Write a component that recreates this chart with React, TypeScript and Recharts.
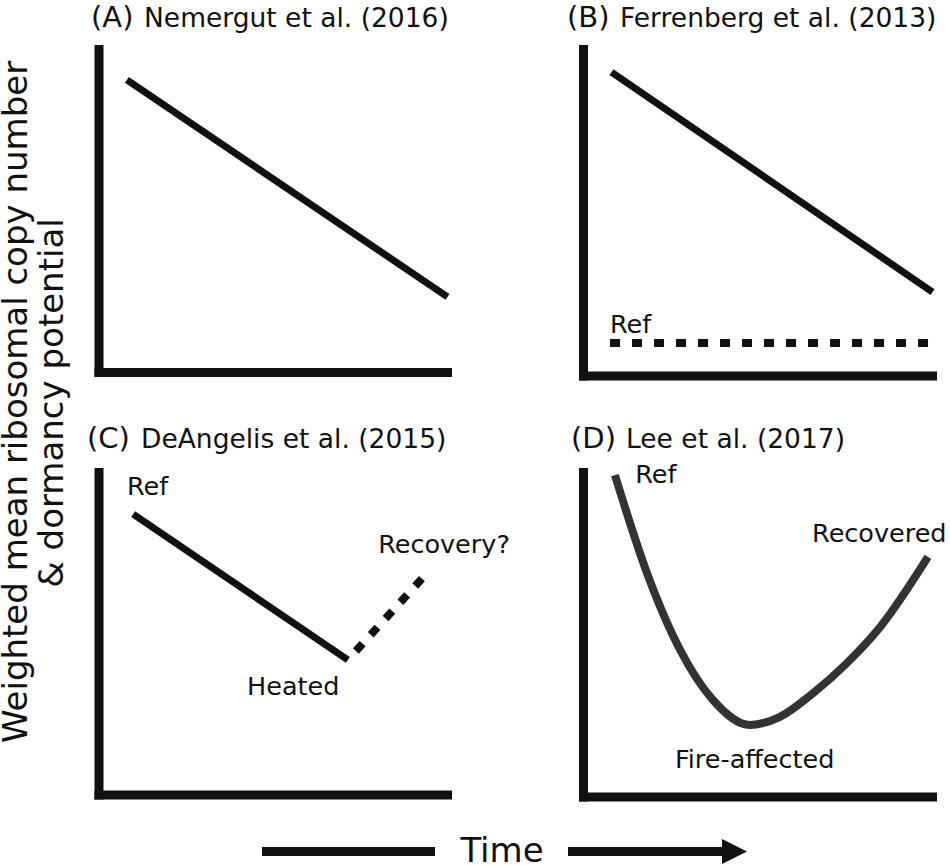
import React from 'react';
import { LineChart, Line, XAxis, YAxis, ReferenceDot } from 'recharts';

const FONT = '"DejaVu Sans", Verdana, sans-serif';
const INK = '#111111';
const CURVE_D = '#333333';

const panelTags = ['(A)', '(B)', '(C)', '(D)'];
const panelCitations = [
  'Nemergut et al. (2016)',
  'Ferrenberg et al. (2013)',
  'DeAngelis et al. (2015)',
  'Lee et al. (2017)',
];
const yLabelLines = ['Weighted mean ribosomal copy number', '& dormancy potential'];
const timeLabel = 'Time';

// Panel A – Nemergut et al. (2016)
const nemergutTime = [8, 100];
const nemergutCopy = [90.6, 23.4];

// Panel B – Ferrenberg et al. (2013)
const ferrenbergTime = [8, 100];
const ferrenbergCopy = [93.1, 25.7];
const ferrenbergRefTime = [7.6, 100];
const ferrenbergRefCopy = [10.1, 10.1];

// Panel C – DeAngelis et al. (2015)
const deangelisTime = [9.8, 71.4];
const deangelisCopy = [87.1, 41.9];
const deangelisRecoveryTime = [71.4, 94.1];
const deangelisRecoveryCopy = [41.9, 68.8];

// Panel D – Lee et al. (2017)
const leeTime = [9, 18.2, 27.7, 37.1, 47.7, 56.3, 65.8, 75.5, 85, 98.7];
const leeCopy = [99.2, 69, 45.3, 29.9, 22.2, 24.7, 32, 41.3, 52.4, 74];

// Annotations (text anchored at its start/baseline, in data units)
const notesA: { text: string; t: number; v: number }[] = [];
const notesB = [{ text: 'Ref', t: 7.6, v: 13.2 }];
const notesC = [
  { text: 'Ref', t: 8.0, v: 93.0 },
  { text: 'Heated', t: 42.5, v: 31.0 },
  { text: 'Recovery?', t: 80.1, v: 75.0 },
];
const notesD = [
  { text: 'Ref', t: 14.8, v: 96.9 },
  { text: 'Recovered', t: 65.5, v: 78.6 },
  { text: 'Fire-affected', t: 26.2, v: 8.9 },
];

const toData = (ts: number[], vs: number[]) => ts.map((t, i) => ({ t, v: vs[i] }));

type Series = {
  key: string;
  data: { t: number; v: number }[];
  color: string;
  width: number;
  curve?: 'linear' | 'monotone';
  dash?: string;
  dashOffset?: number;
};

type PanelProps = {
  left: number;
  top: number;
  width: number;
  margin: { top: number; right: number; bottom: number; left: number };
  series: Series[];
  notes: { text: string; t: number; v: number }[];
};

const axisLineStyle = { stroke: INK, strokeWidth: 9, strokeLinecap: 'square' as const };

function Panel({ left, top, width, margin, series, notes }: PanelProps) {
  return (
    <div style={{ position: 'absolute', left, top }}>
      <LineChart width={width} height={423} margin={margin}>
        <XAxis
          type="number"
          dataKey="t"
          domain={[0, 100]}
          tick={false}
          tickLine={false}
          height={1}
          axisLine={axisLineStyle}
        />
        <YAxis
          type="number"
          domain={[0, 100]}
          tick={false}
          tickLine={false}
          width={1}
          axisLine={axisLineStyle}
        />
        {series.map((s) => (
          <Line
            key={s.key}
            data={s.data}
            dataKey="v"
            type={s.curve ?? 'linear'}
            stroke={s.color}
            strokeWidth={s.width}
            strokeDasharray={s.dash}
            strokeDashoffset={s.dashOffset}
            dot={false}
            activeDot={false}
            isAnimationActive={false}
          />
        ))}
        {notes.map((n) => (
          <ReferenceDot
            key={n.text}
            x={n.t}
            y={n.v}
            r={1}
            ifOverflow="visible"
            shape={(p: any) => (
              <text x={p.cx} y={p.cy} fontFamily={FONT} fontSize={25.5} fill={INK}>
                {n.text}
              </text>
            )}
          />
        ))}
      </LineChart>
    </div>
  );
}

export default function App() {
  const titlePos = [
    { tagX: 91, citeX: 144, y: 27 },
    { tagX: 567, citeX: 620, y: 27 },
    { tagX: 87, citeX: 141, y: 448 },
    { tagX: 571, citeX: 626, y: 448 },
  ];
  return (
    <div
      style={{
        position: 'absolute',
        left: 0,
        top: 0,
        width: 950,
        height: 865,
        background: '#ffffff',
        overflow: 'hidden',
        fontFamily: FONT,
      }}
    >
      <Panel
        left={0}
        top={0}
        width={475}
        margin={{ top: 49.5, right: 27.5, bottom: 49.5, left: 98 }}
        series={[
          { key: 'a', data: toData(nemergutTime, nemergutCopy), color: INK, width: 7 },
        ]}
        notes={notesA}
      />
      <Panel
        left={475}
        top={0}
        width={475}
        margin={{ top: 49.5, right: 17.5, bottom: 46, left: 107.5 }}
        series={[
          { key: 'b', data: toData(ferrenbergTime, ferrenbergCopy), color: INK, width: 7 },
          {
            key: 'bref',
            data: toData(ferrenbergRefTime, ferrenbergRefCopy),
            color: INK,
            width: 8,
            dash: '10 12',
          },
        ]}
        notes={notesB}
      />
      <Panel
        left={0}
        top={423}
        width={540}
        margin={{ top: 49.5, right: 92.5, bottom: 50, left: 98 }}
        series={[
          { key: 'c', data: toData(deangelisTime, deangelisCopy), color: INK, width: 7 },
          {
            key: 'crec',
            data: toData(deangelisRecoveryTime, deangelisRecoveryCopy),
            color: INK,
            width: 8,
            dash: '10 12',
            dashOffset: 10,
          },
        ]}
        notes={notesC}
      />
      <Panel
        left={475}
        top={423}
        width={475}
        margin={{ top: 49.5, right: 17.5, bottom: 48, left: 107.5 }}
        series={[
          {
            key: 'd',
            data: toData(leeTime, leeCopy),
            color: CURVE_D,
            width: 8,
            curve: 'monotone',
          },
        ]}
        notes={notesD}
      />
      <svg
        width={950}
        height={865}
        style={{ position: 'absolute', left: 0, top: 0, pointerEvents: 'none' }}
      >
        {titlePos.map((p, i) => (
          <g key={i}>
            <text x={p.tagX} y={p.y} fontFamily={FONT} fontSize={29} fill={INK}>
              {panelTags[i]}
            </text>
            <text x={p.citeX} y={p.y} fontFamily={FONT} fontSize={26.5} fill={INK}>
              {panelCitations[i]}
            </text>
          </g>
        ))}
        <text
          transform="translate(27, 402) rotate(-90)"
          textAnchor="middle"
          fontFamily={FONT}
          fontSize={34}
          fill={INK}
        >
          {yLabelLines[0]}
        </text>
        <text
          transform="translate(63, 403) rotate(-90)"
          textAnchor="middle"
          fontFamily={FONT}
          fontSize={34}
          fill={INK}
        >
          {yLabelLines[1]}
        </text>
        <line x1={262} y1={851.5} x2={435} y2={851.5} stroke={INK} strokeWidth={9} />
        <text x={502} y={862} textAnchor="middle" fontFamily={FONT} fontSize={34} fill={INK}>
          {timeLabel}
        </text>
        <line x1={568} y1={851.5} x2={727} y2={851.5} stroke={INK} strokeWidth={9} />
        <polygon points="722,839 747,851.5 722,864" fill={INK} />
      </svg>
    </div>
  );
}
